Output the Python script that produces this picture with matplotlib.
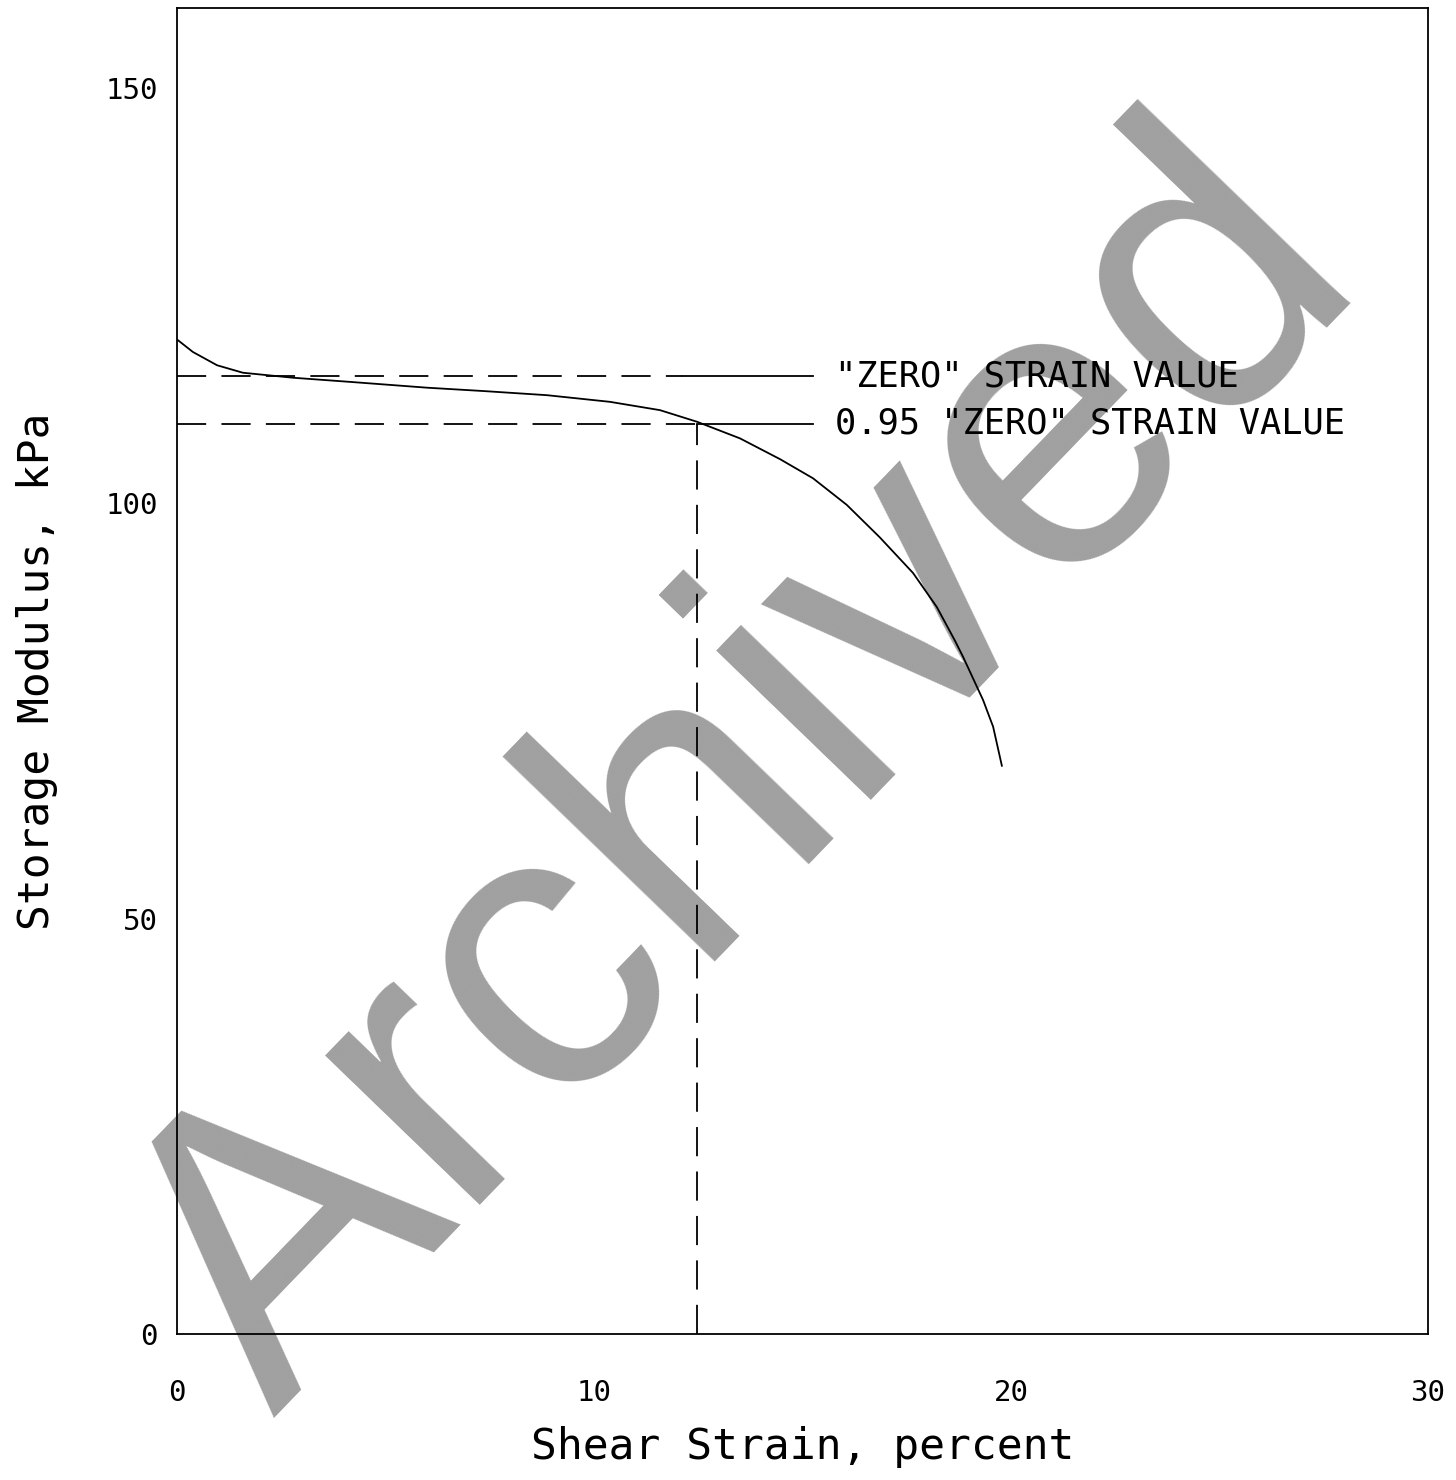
import matplotlib

matplotlib.use("Agg")
import matplotlib.pyplot as plt

# storage modulus vs shear strain
strain = [0.0, 0.38, 0.96, 1.58, 2.78, 4.15, 6.0, 7.34, 8.87, 10.38, 11.58,
          12.47, 13.5, 14.46, 15.25, 16.06, 16.85, 17.65, 18.22, 18.65,
          18.85, 19.33, 19.57, 19.78]
modulus = [119.7, 118.2, 116.6, 115.7, 115.1, 114.6, 113.9, 113.5, 113.0,
           112.2, 111.2, 109.8, 107.8, 105.3, 103.0, 99.8, 95.9, 91.6, 87.5,
           83.5, 81.5, 76.3, 73.1, 68.4]

zero_value = 115.3
reduced_value = 0.95 * zero_value
strain_at_95 = 12.47
zero_dash_end = 12.1
ref_line_end = 15.25

x_ticks = [0, 10, 20, 30]
y_ticks = [0, 50, 100, 150]
labels = ['"ZERO" STRAIN VALUE', '0.95 "ZERO" STRAIN VALUE']

plt.rcParams["font.family"] = ["DejaVu Sans Mono"]
plt.rcParams["lines.scale_dashes"] = False
dash = (0, (21, 11))

fig = plt.figure(figsize=(14.56, 14.80), dpi=100)
ax = fig.add_axes([0.1216, 0.0986, 0.8592, 0.896])
ax.set_facecolor("none")

ax.plot(strain, modulus, color="black", linewidth=1.3)

# "zero" strain reference line: dashed, then solid up to the label
ax.plot([0, zero_dash_end], [zero_value, zero_value], color="black",
        linewidth=1.3, linestyle=dash)
ax.plot([zero_dash_end, ref_line_end], [zero_value, zero_value],
        color="black", linewidth=1.3)

# 0.95 reference line
ax.plot([0, strain_at_95], [reduced_value, reduced_value], color="black",
        linewidth=1.3, linestyle=dash)
ax.plot([strain_at_95, ref_line_end], [reduced_value, reduced_value],
        color="black", linewidth=1.3)
ax.plot([strain_at_95, strain_at_95], [0, reduced_value], color="black",
        linewidth=1.3, linestyle=dash)

ax.text(15.78, zero_value, labels[0], fontsize=25.5, va="center", ha="left")
ax.text(15.78, reduced_value, labels[1], fontsize=25.5, va="center",
        ha="left")

ax.set_xlim(0, 30)
ax.set_ylim(0, 159.6)
ax.set_xticks(x_ticks)
ax.set_yticks(y_ticks)
ax.tick_params(axis="x", length=0, pad=32, labelsize=21)
ax.tick_params(axis="y", length=0, pad=14, labelsize=21)
for s in ax.spines.values():
    s.set_linewidth(1.3)

ax.set_xlabel("Shear Strain, percent", fontsize=31, labelpad=14)
ax.set_ylabel("Storage Modulus, kPa", fontsize=31, labelpad=34)

# archive watermark behind the plot
fig.text(273 / 1456, 1 - 1418 / 1480, "Archived", rotation=46,
         rotation_mode="anchor", ha="left", va="baseline", fontsize=292,
         color="#a0a0a0", family="Liberation Sans", zorder=-1)

fig.savefig("out.png", dpi=100)
